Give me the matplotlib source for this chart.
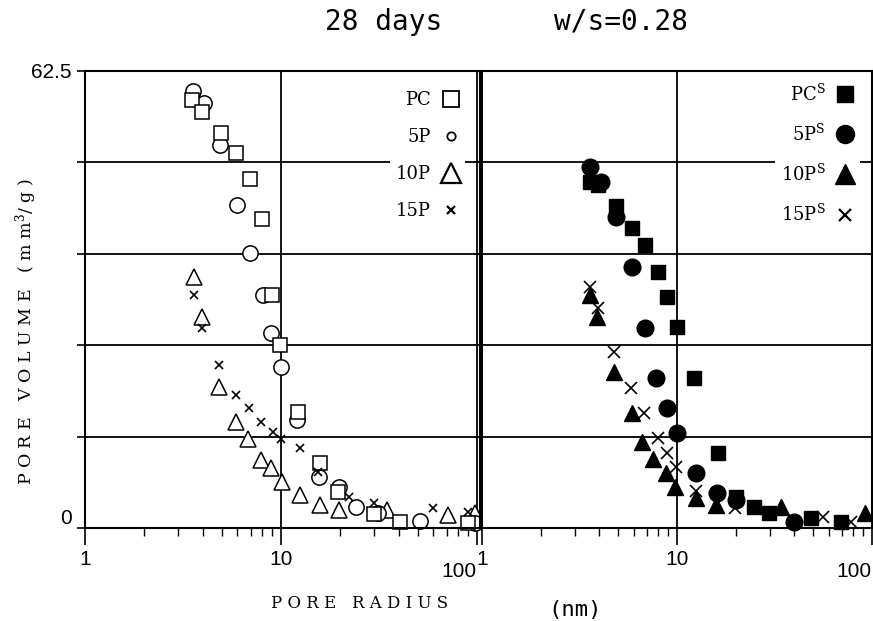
import matplotlib
matplotlib.use("Agg")
import matplotlib.pyplot as plt
from matplotlib.lines import Line2D
from matplotlib.ticker import LogLocator, NullFormatter

plt.rcParams['mathtext.fontset'] = 'dejavuserif'

# ---- data (pore radius in nm, volume in mm3/g) ----
# left panel: plain cements
pc_x = [3.52, 3.95, 4.94, 5.89, 6.95, 8.0, 9.0, 9.9, 12.2, 15.8, 19.5, 29.8, 40.5, 90]
pc_y = [58.5, 56.9, 54.0, 51.3, 47.7, 42.3, 31.9, 25.0, 15.9, 8.9, 4.9, 1.9, 0.8, 0.7]
p5_x = [3.56, 4.05, 4.88, 5.96, 6.95, 8.1, 8.9, 10.0, 12.1, 15.6, 19.8, 24.1, 31.2, 51.2, 98]
p5_y = [59.8, 58.1, 52.4, 44.2, 37.6, 31.9, 26.7, 22.0, 14.8, 7.0, 5.6, 2.9, 2.0, 1.0, 0.7]
p10_x = [3.6, 3.95, 4.83, 5.9, 6.8, 7.9, 8.9, 10.1, 12.5, 15.8, 19.8, 34.7, 71, 98]
p10_y = [34.3, 28.9, 19.3, 14.5, 12.2, 9.3, 8.2, 6.3, 4.5, 3.1, 2.5, 2.5, 1.8, 2.0]
p15_x = [3.6, 3.95, 4.83, 5.9, 6.87, 7.9, 9.1, 10.0, 12.5, 15.4, 22.2, 29.8, 59.7, 90]
p15_y = [31.9, 27.4, 22.3, 18.2, 16.4, 14.5, 13.1, 12.2, 10.9, 7.7, 4.2, 3.4, 2.7, 2.2]

# right panel: "S" series
pcs_x = [3.56, 3.95, 4.88, 5.9, 6.87, 8.0, 8.9, 10.0, 12.2, 16.2, 20.0, 24.7, 29.5, 48.8, 69.6]
pcs_y = [47.3, 46.9, 44.0, 41.0, 38.7, 35.0, 31.6, 27.5, 20.5, 10.3, 4.2, 2.9, 2.0, 1.4, 0.8]
p5s_x = [3.56, 4.09, 4.88, 5.9, 6.87, 7.8, 8.9, 10.0, 12.5, 16.0, 20.0, 39.6]
p5s_y = [49.4, 47.3, 42.5, 35.7, 27.4, 20.5, 16.4, 13.0, 7.5, 4.8, 3.8, 0.8]
p10s_x = [3.6, 3.9, 4.77, 5.9, 6.6, 7.5, 8.8, 9.75, 12.5, 15.8, 34.0, 92]
p10s_y = [31.9, 28.9, 21.3, 15.7, 11.8, 9.4, 7.5, 5.6, 4.1, 3.1, 2.9, 2.0]
p15s_x = [3.56, 3.95, 4.77, 5.8, 6.8, 8.0, 8.9, 9.9, 12.5, 19.8, 56, 78]
p15s_y = [33.0, 30.1, 24.1, 19.2, 15.7, 12.3, 10.3, 8.3, 5.1, 2.7, 1.5, 0.8]

y_max = 62.5
y_grid = [12.5, 25, 37.5, 50]
x_ticks = [1, 10, 100]

serif = 'DejaVu Serif'
sans = 'Liberation Sans'

fig = plt.figure(figsize=(8.73, 6.21), dpi=100)
W, H = 873, 621
ax1 = fig.add_axes([85 / W, 1 - 528 / H, 395 / W, 457 / H])
ax2 = fig.add_axes([482 / W, 1 - 528 / H, 390 / W, 457 / H])


def setup(ax, xmax, show_y):
    ax.set_xscale('log')
    ax.set_xlim(1, xmax)
    ax.set_ylim(0, y_max)
    ax.set_xticks(x_ticks)
    ax.set_xticklabels(['1', '10', ''], fontsize=15, fontfamily=sans)
    ax.xaxis.set_minor_locator(LogLocator(base=10, subs=range(2, 10)))
    ax.xaxis.set_minor_formatter(NullFormatter())
    ax.tick_params(axis='x', which='major', length=12, width=1.2, direction='out', pad=4)
    ax.tick_params(axis='x', which='minor', length=6, width=1.0, direction='out')
    ax.grid(True, axis='x', which='major', color='black', lw=1.3)
    ax.set_yticks([0, y_max])
    ax.set_yticks(y_grid, minor=True)
    ax.grid(True, axis='y', which='minor', color='black', lw=1.3)
    if show_y:
        ax.set_yticklabels(['0', '62.5'], fontsize=15, fontfamily=sans)
        ax.get_yticklabels()[0].set_va('bottom')
    else:
        ax.set_yticklabels([])
    ax.tick_params(axis='y', which='both', length=6, width=1.2, direction='out')
    for s in ax.spines.values():
        s.set_linewidth(1.5)
    ax.set_axisbelow(True)
    # "100" label sits lower and right-aligned to its tick
    ax.text(100, -0.075, '100', transform=ax.get_xaxis_transform(),
            ha='right', va='top', fontsize=15, fontfamily=sans, clip_on=False)


setup(ax1, 103.7, True)
setup(ax2, 97.9, False)

open_kw = dict(ls='none', mfc='white', mec='black', mew=1.1, clip_on=False)
ax1.plot(p10_x, p10_y, marker='^', ms=12, label='10P', **open_kw)
ax1.plot(p5_x, p5_y, marker='o', ms=11, label='5P', **open_kw)
ax1.plot(pc_x, pc_y, marker='s', ms=10, label='PC', **open_kw)
ax1.plot(p15_x, p15_y, marker='x', ms=6, ls='none', color='black', mew=1.2,
         label='15P', clip_on=False)

fill_kw = dict(ls='none', color='black', clip_on=False)
ax2.plot(p10s_x, p10s_y, marker='^', ms=12, label='10P$^{\\mathrm{S}}$', **fill_kw)
ax2.plot(p5s_x, p5s_y, marker='o', ms=12, label='5P$^{\\mathrm{S}}$', **fill_kw)
ax2.plot(pcs_x, pcs_y, marker='s', ms=10, label='PC$^{\\mathrm{S}}$', **fill_kw)
ax2.plot(p15s_x, p15s_y, marker='x', ms=8, mew=1.2, label='15P$^{\\mathrm{S}}$', **fill_kw)

# legends: label first, marker after it
leg1_handles = [
    Line2D([], [], marker='s', ms=11, ls='none', mfc='white', mec='black', mew=1.3),
    Line2D([], [], marker='o', ms=6, ls='none', mfc='white', mec='black', mew=1.3),
    Line2D([], [], marker='^', ms=15, ls='none', mfc='white', mec='black', mew=1.6),
    Line2D([], [], marker='x', ms=6, ls='none', color='black', mew=1.6),
]
leg2_handles = [
    Line2D([], [], marker='s', ms=12, ls='none', color='black'),
    Line2D([], [], marker='o', ms=13, ls='none', color='black'),
    Line2D([], [], marker='^', ms=15, ls='none', color='black'),
    Line2D([], [], marker='x', ms=8, ls='none', color='black', mew=1.6),
]
leg_kw = dict(markerfirst=False, alignment='right', frameon=True, facecolor='white',
              edgecolor='none', framealpha=1, fancybox=False, loc='upper right',
              prop={'family': serif, 'size': 13}, handlelength=1.0, handletextpad=0.6,
              labelspacing=1.05, borderpad=0.3, borderaxespad=0)
ax1.legend(leg1_handles, ['PC', '5P', '10P', '15P'], bbox_to_anchor=(0.962, 0.967), **leg_kw)
ax2.legend(leg2_handles, ['PC$^{\\mathrm{S}}$', '5P$^{\\mathrm{S}}$',
                          '10P$^{\\mathrm{S}}$', '15P$^{\\mathrm{S}}$'],
           bbox_to_anchor=(0.969, 0.985), **leg_kw)

# titles and axis labels
fig.text(384 / W, 1 - 22 / H, '28 days', ha='center', va='center',
         fontsize=20, fontfamily='DejaVu Sans Mono')
fig.text(621 / W, 1 - 22 / H, 'w/s=0.28', ha='center', va='center',
         fontsize=20, fontfamily='DejaVu Sans Mono')
fig.text(360 / W, 1 - 603 / H, 'P O R E   R A D I U S', ha='center', va='center',
         fontsize=12, fontfamily=serif)
fig.text(575 / W, 1 - 610 / H, '(nm)', ha='center', va='center',
         fontsize=16, fontfamily='DejaVu Sans Mono')
fig.text(26 / W, 1 - 332 / H, 'P O R E   V O L U M E   ( m m$^{3}$/ g )',
         rotation=90, ha='center', va='center', fontsize=12.5, fontfamily=serif)

fig.savefig('out.png', dpi=100)
